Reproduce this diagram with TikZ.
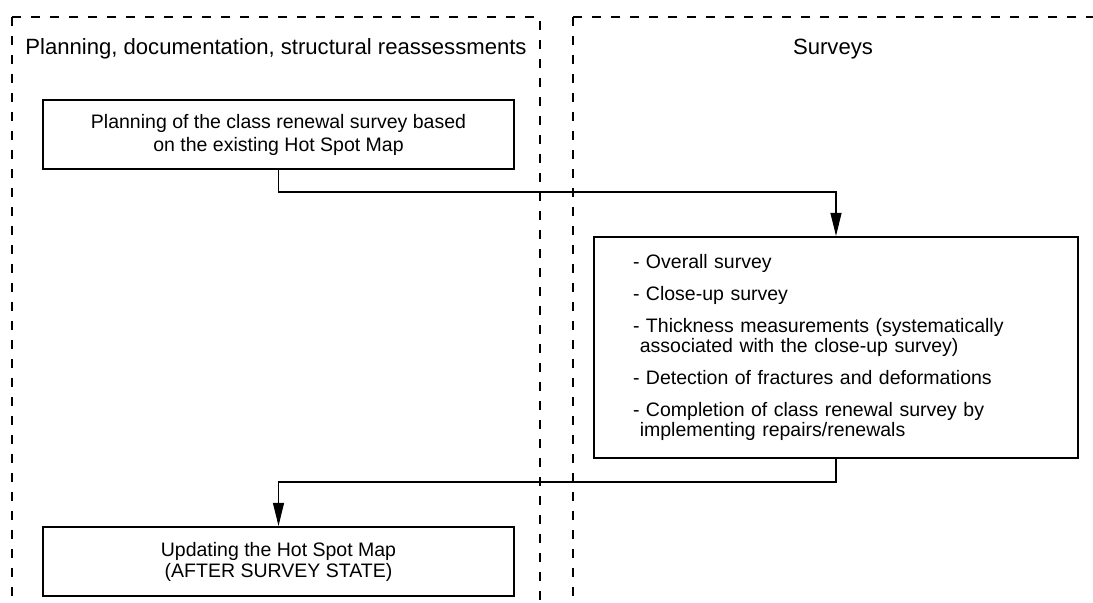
\documentclass[tikz,border=0pt]{standalone}
\usepackage{fontspec}
\setmainfont{Liberation Sans}
\usetikzlibrary{arrows.meta, positioning}

\begin{document}
\begin{tikzpicture}[
        x=0.5pt, y=-0.5pt,
        block/.style={rectangle, draw=black, line width=1.1pt, fill=white,
                      inner sep=0pt, align=center,
                      minimum width=235.5pt, minimum height=34.5pt,
                      font=\fontsize{9.75pt}{11.5pt}\selectfont},
        lanetitle/.style={anchor=base, font=\fontsize{11.05pt}{13pt}\selectfont},
        lane/.style={draw=black, line width=0.65pt, dash pattern=on 4.5pt off 5pt},
        arrow/.style={-{Triangle[length=11.5pt, width=5.5pt]}, line width=0.65pt, draw=black},
    ]
    \useasboundingbox (0,0) rectangle (1093,603);

    % Swimlanes
    \draw[lane] (12,17) -- (540,17) -- (540,603);
    \draw[lane] (12,17) -- (12,603);
    \draw[lane] (573,17) -- (1093,17);
    \draw[lane] (573,17) -- (573,603);

    \node[lanetitle] (planlane)   at (276,55) {Planning, documentation, structural reassessments};
    \node[lanetitle] (surveylane) at (833,55) {Surveys};

    % Boxes
    \node[block] (plan) at (278.5,134.5)
        {Planning of the class renewal survey based\\on the existing Hot Spot Map};
    \node[block, minimum width=242pt, minimum height=110.5pt, text width=203pt,
          align=left, font=\fontsize{9.75pt}{10pt}\selectfont] (survey) at (836,347.5)
        {- Overall survey\\[6pt]
         - Close-up survey\\[6pt]
         - Thickness measurements (systematically\\
         \hspace*{0.35em}associated with the close-up survey)\\[6pt]
         - Detection of fractures and deformations\\[6pt]
         - Completion of class renewal survey by\\
         \hspace*{0.35em}implementing repairs/renewals};
    \node[block, font=\fontsize{9.75pt}{10.5pt}\selectfont] (update) at (278.5,561.5)
        {Updating the Hot Spot Map\\(AFTER SURVEY STATE)};

    % Arrows
    \draw[arrow] (plan.south)   -- ++(0,22) -| (survey.north);
    \draw[arrow] (survey.south) -- ++(0,23) -| (update.north);

\end{tikzpicture}
\end{document}
